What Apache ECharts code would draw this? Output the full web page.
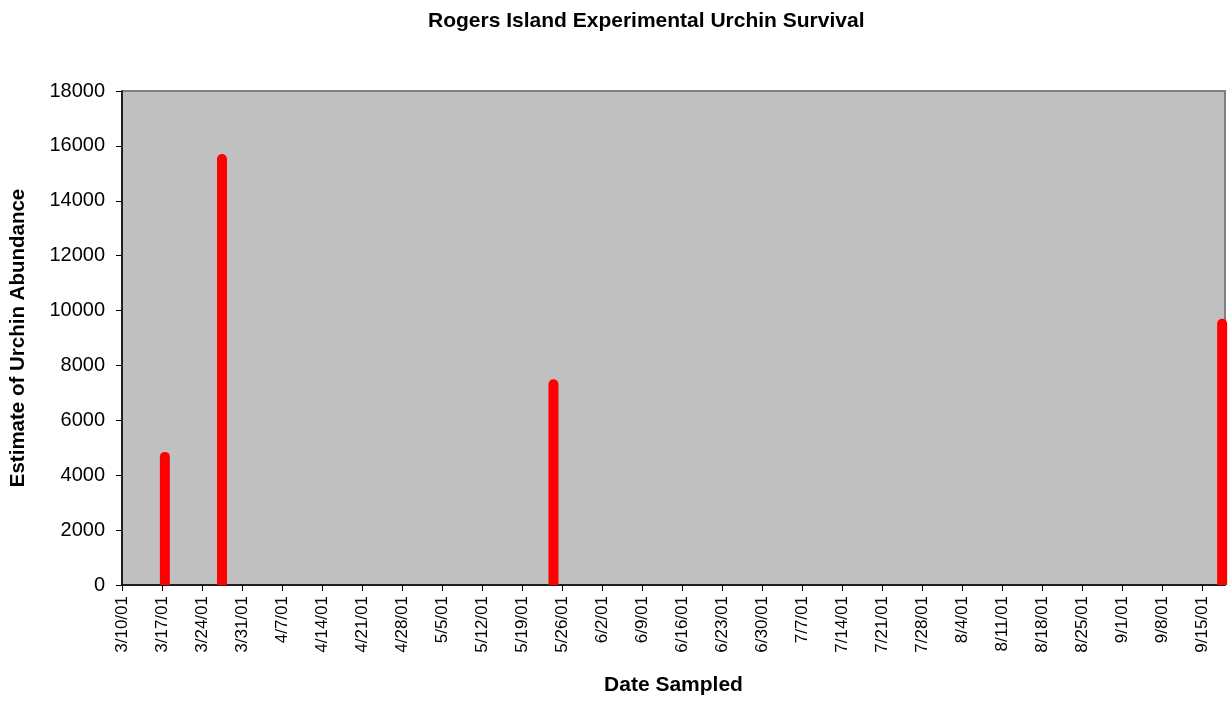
<!DOCTYPE html>
<html>
<head>
<meta charset="utf-8">
<script src="https://cdn.jsdelivr.net/npm/echarts@6/dist/echarts.min.js"></script>
<style>
html,body{margin:0;padding:0;background:#fff;}
#chart{width:1232px;height:727px;}
</style>
</head>
<body>
<div id="chart"></div>
<script>
// Data
var sampleDates = ['2001-03-17', '2001-03-27', '2001-05-24', '2001-09-18'];
var abundance = [4850, 15700, 7500, 9700];
var axisStart = '2001-03-10';
var axisEnd = '2001-09-19';
var yTicks = [0, 2000, 4000, 6000, 8000, 10000, 12000, 14000, 16000, 18000];

function dayIndex(s) {
  var p = s.split('-');
  var a = axisStart.split('-');
  var d = Date.UTC(+p[0], +p[1] - 1, +p[2]);
  var d0 = Date.UTC(+a[0], +a[1] - 1, +a[2]);
  return Math.round((d - d0) / 86400000);
}
function labelFor(v) {
  var a = axisStart.split('-');
  var d = new Date(Date.UTC(+a[0], +a[1] - 1, +a[2] + v));
  return (d.getUTCMonth() + 1) + '/' + d.getUTCDate() + '/' + String(d.getUTCFullYear()).slice(2);
}
var maxDay = dayIndex(axisEnd);
var weekTicks = [];
for (var t = 0; t <= maxDay; t += 7) weekTicks.push(t);
var barData = sampleDates.map(function (s, i) { return [dayIndex(s) + 0.5, abundance[i]]; });

var FONT = "'Liberation Sans', Arial, sans-serif";
var chart = echarts.init(document.getElementById('chart'));
chart.setOption({
  animation: false,
  backgroundColor: '#ffffff',
  title: {
    text: 'Rogers Island Experimental Urchin Survival',
    left: 423, top: 6,
    textStyle: { fontFamily: FONT, fontSize: 21, fontWeight: 'bold', color: '#000' }
  },
  grid: {
    left: 121, right: 7, top: 91, bottom: 142,
    show: true, backgroundColor: '#c0c0c0', borderColor: '#808080', borderWidth: 2
  },
  xAxis: {
    type: 'value', min: 0, max: maxDay, interval: 7,
    name: 'Date Sampled', nameLocation: 'middle', nameGap: 90,
    nameTextStyle: { fontFamily: FONT, fontSize: 21, fontWeight: 'bold', color: '#000' },
    splitLine: { show: false },
    axisLine: { show: true, lineStyle: { color: '#000', width: 1.5 } },
    axisTick: { show: true, length: 6, inside: false, customValues: weekTicks, lineStyle: { color: '#000' } },
    axisLabel: {
      rotate: 90, margin: 11, customValues: weekTicks,
      fontFamily: FONT, fontSize: 17, color: '#000',
      formatter: function (v) { return labelFor(v); }
    }
  },
  yAxis: {
    type: 'value', min: 0, max: 18000, interval: 2000,
    name: 'Estimate of Urchin Abundance', nameLocation: 'middle', nameGap: 93,
    nameTextStyle: { fontFamily: FONT, fontSize: 20.5, fontWeight: 'bold', color: '#000' },
    splitLine: { show: false },
    axisLine: { show: true, lineStyle: { color: '#000', width: 1.5 } },
    axisTick: { show: true, length: 6, lineStyle: { color: '#000' } },
    axisLabel: {
      margin: 17, fontFamily: FONT, fontSize: 20, color: '#000',
      formatter: function (v) { return String(v); }
    }
  },
  series: [{
    type: 'bar',
    data: barData,
    barWidth: 10,
    clip: true,
    itemStyle: { color: '#ff0000', borderRadius: [5, 5, 0, 0] }
  }]
});
</script>
</body>
</html>
